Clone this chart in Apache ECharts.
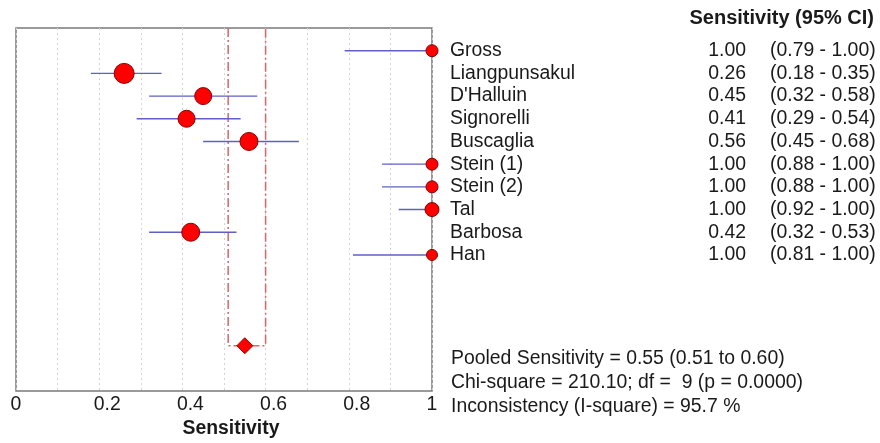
<!DOCTYPE html>
<html>
<head>
<meta charset="utf-8">
<script src="https://cdn.jsdelivr.net/npm/echarts@6/dist/echarts.min.js"></script>
<style>
  html, body { margin: 0; padding: 0; background: #fff; }
  #chart { width: 880px; height: 443px; }
</style>
</head>
<body>
<div id="chart"></div>
<script>
// Forest plot of per-study sensitivity with 95% confidence intervals
const studies = ['Gross', 'Liangpunsakul', "D'Halluin", 'Signorelli', 'Buscaglia',
                 'Stein (1)', 'Stein (2)', 'Tal', 'Barbosa', 'Han'];
const sensitivity = [1.00, 0.26, 0.45, 0.41, 0.56, 1.00, 1.00, 1.00, 0.42, 1.00];
const ciLower     = [0.79, 0.18, 0.32, 0.29, 0.45, 0.88, 0.88, 0.92, 0.32, 0.81];
const ciUpper     = [1.00, 0.35, 0.58, 0.54, 0.68, 1.00, 1.00, 1.00, 0.53, 1.00];

// Pooled estimate
const pooledRow = 13;
const pooledEstimate = 0.55;
const pooledLower = 0.51;
const pooledUpper = 0.60;

const xTickLabels = ['0', '0.2', '0.4', '0.6', '0.8', '1'];
const statLines = [
  'Pooled Sensitivity = 0.55 (0.51 to 0.60)',
  'Chi-square = 210.10; df =  9 (p = 0.0000)',
  'Inconsistency (I-square) = 95.7 %'
];

// Marker diameters (study weight), drawing style only
const dotSize = [12, 20, 17, 17, 18, 12, 12, 14, 18, 11];

const FONT = '"Liberation Sans", Arial, sans-serif';
const TXT = '#1a1a1a';
const FS = 19.4;

const rows = studies.map((_, i) => i);
const ciData = rows.map(i => [ciLower[i], ciUpper[i], i]);
const pointData = rows.map(i => ({ value: [sensitivity[i], i], symbolSize: dotSize[i] }));
const textData = rows.map(i => [1, i]);

const chart = echarts.init(document.getElementById('chart'), null, { renderer: 'canvas' });

chart.setOption({
  animation: false,
  backgroundColor: '#ffffff',
  grid: {
    left: 16, right: 448, top: 28, bottom: 50,
    show: true, borderColor: '#7a7a7a', borderWidth: 1.5, backgroundColor: 'transparent'
  },
  xAxis: {
    type: 'value', min: 0, max: 1, interval: 0.1,
    name: 'Sensitivity', nameLocation: 'middle', nameGap: 24,
    nameTextStyle: { fontFamily: FONT, fontSize: FS, fontWeight: 'bold', color: TXT, padding: [0, 0, 0, 14] },
    axisLine: { show: false }, axisTick: { show: false },
    splitLine: { show: true, lineStyle: { color: '#d2d2d2', type: [2, 3], width: 1 } },
    axisLabel: {
      margin: 4, fontFamily: FONT, fontSize: FS, color: TXT,
      formatter: function (v) {
        const k = Math.round(v * 10);
        if (k % 2 !== 0) return '';
        const lbl = xTickLabels[k / 2];
        return (k === 0 || k === 10) ? lbl : '{s|' + lbl + '}';
      },
      rich: { s: { fontFamily: FONT, fontSize: FS, color: TXT, padding: [0, 0, 0, 16] } }
    }
  },
  yAxis: {
    type: 'value', min: -1, max: 15, inverse: true, show: false,
    splitLine: { show: false }
  },
  series: [
    {
      // Pooled confidence bracket (dash-dot)
      type: 'custom', clip: false, z: 2,
      data: [[pooledLower, pooledUpper, pooledRow]],
      renderItem: function (params, api) {
        const lo = api.value(0), hi = api.value(1), r = api.value(2);
        const a = api.coord([lo, -1]), b = api.coord([lo, r]);
        const c = api.coord([hi, r]), d = api.coord([hi, -1]);
        return {
          type: 'polyline',
          shape: { points: [a, b, c, d] },
          style: { stroke: '#d9656a', lineWidth: 1.5, fill: null, lineDash: [9, 3, 2, 3] }
        };
      }
    },
    {
      // Study confidence intervals
      type: 'custom', clip: false, z: 3,
      data: ciData,
      renderItem: function (params, api) {
        const p1 = api.coord([api.value(0), api.value(2)]);
        const p2 = api.coord([api.value(1), api.value(2)]);
        return {
          type: 'line',
          shape: { x1: p1[0], y1: p1[1], x2: p2[0], y2: p2[1] },
          style: { stroke: '#5f5fc4', lineWidth: 1.4 }
        };
      }
    },
    {
      type: 'scatter', z: 4,
      symbol: 'circle',
      itemStyle: { color: '#ff0000', borderColor: '#8a0000', borderWidth: 1, opacity: 1 },
      data: pointData
    },
    {
      type: 'scatter', z: 5,
      symbol: 'diamond', symbolSize: [16, 16],
      itemStyle: { color: '#ff0000', borderColor: '#a00000', borderWidth: 1, opacity: 1 },
      data: [[pooledEstimate, pooledRow]]
    },
    {
      // Study table to the right of the plot
      type: 'custom', clip: false, z: 6, silent: true,
      data: textData,
      renderItem: function (params, api) {
        const i = params.dataIndex;
        const p = api.coord([api.value(0), api.value(1)]);
        const base = { fontFamily: FONT, fontSize: FS, fill: TXT, verticalAlign: 'middle' };
        return {
          type: 'group',
          children: [
            { type: 'text', style: Object.assign({}, base, { x: p[0] + 18, y: p[1], text: studies[i], align: 'left' }) },
            { type: 'text', style: Object.assign({}, base, { x: p[0] + 314, y: p[1], text: sensitivity[i].toFixed(2), align: 'right' }) },
            { type: 'text', style: Object.assign({}, base, { x: p[0] + 338, y: p[1],
              text: '(' + ciLower[i].toFixed(2) + ' - ' + ciUpper[i].toFixed(2) + ')', align: 'left' }) }
          ]
        };
      }
    }
  ],
  graphic: [
    {
      type: 'text', right: 6, top: 8,
      style: { text: 'Sensitivity (95% CI)', fontFamily: FONT, fontSize: 20, fontWeight: 'bold', fill: TXT }
    },
    {
      type: 'text', left: 451, top: 347,
      style: { text: statLines.join('\n'), fontFamily: FONT, fontSize: FS, lineHeight: 24, fill: TXT }
    }
  ]
});
</script>
</body>
</html>
